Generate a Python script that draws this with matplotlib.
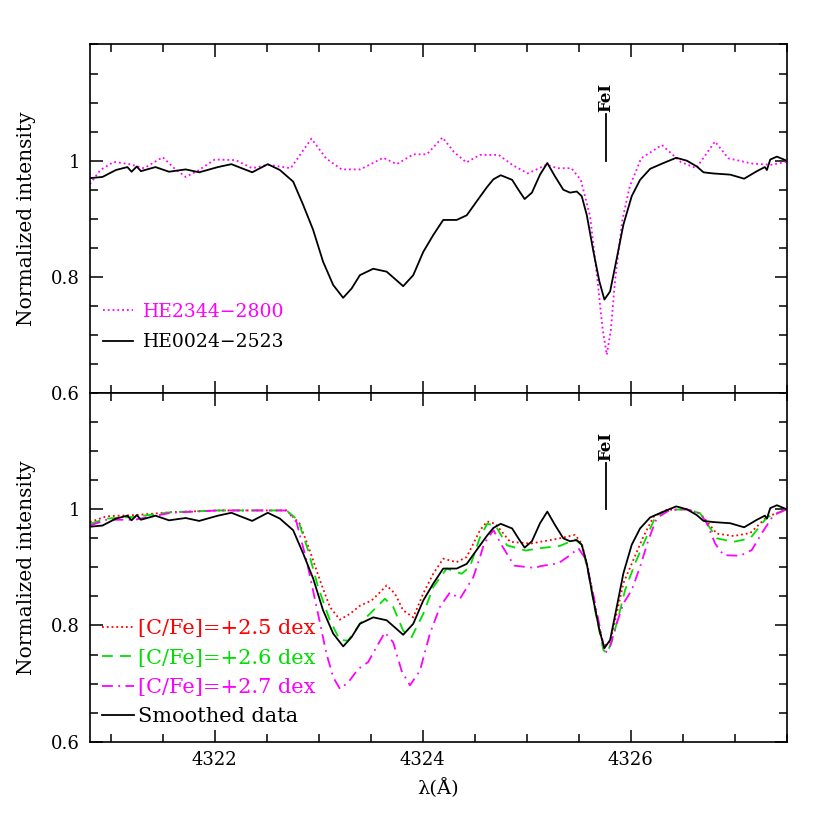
#!/usr/bin/env python
# Two-panel spectrum comparison: observed stars (top), synthetic CH fits (bottom)

import matplotlib
matplotlib.use('Agg')
import matplotlib.pyplot as plt
from matplotlib.ticker import MultipleLocator, FixedLocator

# ---- observed spectra (top panel); the black one is re-used as "Smoothed data" ----
wl_he0024 = [4320.80, 4320.92, 4321.05, 4321.16, 4321.20, 4321.25, 4321.29, 4321.43,
             4321.56, 4321.72, 4321.85, 4322.03, 4322.16, 4322.36, 4322.51, 4322.626,
             4322.754, 4322.850, 4322.946, 4323.042, 4323.139, 4323.235, 4323.316, 4323.396,
             4323.524, 4323.653, 4323.749, 4323.812, 4323.909, 4324.005, 4324.101, 4324.197,
             4324.326, 4324.423, 4324.551, 4324.62, 4324.68, 4324.75, 4324.86, 4324.92,
             4324.98, 4325.05, 4325.128, 4325.198, 4325.272, 4325.352, 4325.417, 4325.481,
             4325.529, 4325.577, 4325.641, 4325.699, 4325.747, 4325.802, 4325.866, 4325.930,
             4326.010, 4326.090, 4326.187, 4326.315, 4326.438, 4326.540, 4326.636, 4326.700,
             4326.796, 4326.957, 4327.091, 4327.214, 4327.29, 4327.31, 4327.342, 4327.406,
             4327.50]
fl_he0024 = [0.970, 0.972, 0.984, 0.989, 0.981, 0.990, 0.982, 0.989,
             0.981, 0.985, 0.980, 0.989, 0.994, 0.980, 0.994, 0.984,
             0.964, 0.924, 0.881, 0.826, 0.786, 0.764, 0.780, 0.803,
             0.814, 0.809, 0.794, 0.784, 0.803, 0.843, 0.872, 0.898,
             0.898, 0.906, 0.938, 0.955, 0.968, 0.975, 0.967, 0.950,
             0.934, 0.945, 0.976, 0.996, 0.973, 0.950, 0.945, 0.947,
             0.939, 0.907, 0.844, 0.792, 0.761, 0.775, 0.832, 0.890,
             0.939, 0.967, 0.986, 0.996, 1.005, 1.000, 0.990, 0.980,
             0.978, 0.976, 0.969, 0.982, 0.989, 0.984, 1.002, 1.007,
             1.000]

wl_he2344 = [4320.80, 4320.90, 4321.03, 4321.18, 4321.32, 4321.50, 4321.61, 4321.72,
             4321.85, 4322.00, 4322.20, 4322.36, 4322.51, 4322.73, 4322.82, 4322.93,
             4323.07, 4323.22, 4323.40, 4323.62, 4323.75, 4323.91, 4324.04, 4324.19,
             4324.30, 4324.42, 4324.55, 4324.73, 4324.86, 4325.01, 4325.19, 4325.30,
             4325.43, 4325.52, 4325.61, 4325.68, 4325.73, 4325.77, 4325.81, 4325.85,
             4325.92, 4325.99, 4326.10, 4326.30, 4326.48, 4326.63, 4326.81, 4326.94,
             4327.17, 4327.35, 4327.50]
fl_he2344 = [0.960, 0.984, 0.998, 0.994, 0.987, 1.006, 0.987, 0.972,
             0.984, 1.002, 1.001, 0.987, 0.993, 0.987, 1.010, 1.038,
             1.004, 0.985, 0.985, 1.005, 0.994, 1.011, 1.011, 1.040,
             1.015, 0.997, 1.010, 1.010, 0.993, 0.978, 0.993, 0.987,
             0.987, 0.967, 0.904, 0.795, 0.710, 0.666, 0.710, 0.795,
             0.898, 0.955, 1.004, 1.027, 0.998, 0.987, 1.033, 1.004,
             0.995, 0.993, 0.998]

# ---- synthetic spectra (bottom panel) ----
wl_c25 = [4320.80, 4320.96, 4321.23, 4321.58, 4322.03, 4322.690, 4322.818, 4322.914,
          4323.011, 4323.107, 4323.203, 4323.300, 4323.396, 4323.508, 4323.588, 4323.653,
          4323.732, 4323.812, 4323.909, 4324.005, 4324.101, 4324.197, 4324.326, 4324.423,
          4324.551, 4324.62, 4324.70, 4324.84, 4325.04, 4325.128, 4325.289, 4325.465,
          4325.529, 4325.593, 4325.657, 4325.737, 4325.802, 4325.866, 4325.930, 4326.026,
          4326.122, 4326.219, 4326.347, 4326.540, 4326.668, 4326.732, 4326.829, 4326.989,
          4327.149, 4327.310, 4327.50]
fl_c25 = [0.978, 0.988, 0.990, 0.995, 0.998, 0.998, 0.975, 0.929,
          0.878, 0.832, 0.810, 0.820, 0.834, 0.843, 0.857, 0.869,
          0.855, 0.826, 0.814, 0.855, 0.889, 0.915, 0.909, 0.918,
          0.964, 0.979, 0.975, 0.944, 0.941, 0.944, 0.949, 0.956,
          0.941, 0.896, 0.832, 0.764, 0.772, 0.821, 0.873, 0.913,
          0.953, 0.987, 0.999, 1.000, 0.993, 0.979, 0.958, 0.954,
          0.959, 0.987, 1.000]

wl_c26 = [4320.80, 4320.96, 4321.23, 4321.58, 4322.03, 4322.690, 4322.802, 4322.898,
          4322.994, 4323.107, 4323.203, 4323.283, 4323.396, 4323.524, 4323.636, 4323.716,
          4323.812, 4323.893, 4324.005, 4324.101, 4324.230, 4324.374, 4324.454, 4324.551,
          4324.62, 4324.70, 4324.81, 4324.99, 4325.128, 4325.320, 4325.465, 4325.529,
          4325.593, 4325.657, 4325.737, 4325.770, 4325.818, 4325.882, 4325.946, 4326.042,
          4326.139, 4326.235, 4326.363, 4326.540, 4326.668, 4326.732, 4326.829, 4326.989,
          4327.149, 4327.310, 4327.50]
fl_c26 = [0.975, 0.984, 0.987, 0.995, 0.998, 0.998, 0.981, 0.929,
          0.866, 0.809, 0.775, 0.774, 0.803, 0.826, 0.846, 0.832,
          0.791, 0.780, 0.820, 0.866, 0.898, 0.889, 0.901, 0.952,
          0.975, 0.972, 0.938, 0.929, 0.933, 0.937, 0.948, 0.939,
          0.890, 0.827, 0.758, 0.752, 0.772, 0.815, 0.861, 0.907,
          0.947, 0.986, 0.999, 1.000, 0.993, 0.976, 0.950, 0.944,
          0.950, 0.986, 1.000]

wl_c27 = [4320.80, 4320.96, 4321.23, 4321.58, 4322.03, 4322.690, 4322.786, 4322.883,
          4322.979, 4323.075, 4323.139, 4323.203, 4323.283, 4323.379, 4323.475, 4323.556,
          4323.636, 4323.716, 4323.797, 4323.877, 4323.973, 4324.069, 4324.166, 4324.262,
          4324.358, 4324.486, 4324.551, 4324.59, 4324.68, 4324.77, 4324.88, 4325.08,
          4325.128, 4325.304, 4325.417, 4325.497, 4325.561, 4325.625, 4325.689, 4325.754,
          4325.802, 4325.866, 4325.930, 4326.010, 4326.090, 4326.170, 4326.251, 4326.379,
          4326.540, 4326.668, 4326.732, 4326.812, 4326.893, 4327.053, 4327.165, 4327.261,
          4327.374, 4327.50]
fl_c27 = [0.972, 0.982, 0.982, 0.994, 0.998, 0.998, 0.978, 0.912,
          0.832, 0.751, 0.711, 0.691, 0.702, 0.725, 0.737, 0.763,
          0.788, 0.771, 0.722, 0.697, 0.722, 0.786, 0.832, 0.857,
          0.846, 0.883, 0.918, 0.941, 0.964, 0.935, 0.903, 0.899,
          0.902, 0.907, 0.921, 0.933, 0.916, 0.867, 0.810, 0.752,
          0.764, 0.804, 0.838, 0.861, 0.901, 0.947, 0.985, 0.999,
          1.000, 0.993, 0.976, 0.941, 0.921, 0.920, 0.930, 0.959,
          0.990, 1.000]

fe_line = 4325.76

plt.rcParams['font.family'] = ['DejaVu Serif']
plt.rcParams['font.size'] = 13

fig = plt.figure(figsize=(8.3, 8.3), dpi=100)
ax_top = fig.add_axes([0.1084, 0.5264, 0.8394, 0.4200])
ax_bot = fig.add_axes([0.1084, 0.1064, 0.8394, 0.4200], sharex=ax_top)

ax_top.plot(wl_he2344, fl_he2344, color='magenta', ls=':', lw=1.3, label='HE2344\u22122800')
ax_top.plot(wl_he0024, fl_he0024, color='black', ls='-', lw=1.3, label='HE0024\u22122523')

ax_bot.plot(wl_c25, fl_c25, color='red', ls=':', lw=1.3, label='[C/Fe]=+2.5 dex')
ax_bot.plot(wl_c26, fl_c26, color='#00e000', ls=(0, (6, 4)), lw=1.3, label='[C/Fe]=+2.6 dex')
ax_bot.plot(wl_c27, fl_c27, color='magenta', ls=(0, (6, 3, 1, 3)), lw=1.3, label='[C/Fe]=+2.7 dex')
ax_bot.plot(wl_he0024, fl_he0024, color='black', ls='-', lw=1.3, label='Smoothed data')

for ax in (ax_top, ax_bot):
    ax.set_xlim(4320.8, 4327.5)
    ax.set_ylim(0.6, 1.2)
    ax.set_ylabel('Normalized intensity', fontsize=14.5)
    ax.yaxis.set_label_coords(-0.078, 0.5)
    ax.xaxis.set_major_locator(MultipleLocator(2))
    ax.xaxis.set_minor_locator(MultipleLocator(0.5))
    ax.yaxis.set_major_locator(FixedLocator([0.6, 0.8, 1.0]))
    ax.yaxis.set_minor_locator(MultipleLocator(0.05))
    ax.yaxis.set_major_formatter(plt.FuncFormatter(lambda v, p: '%g' % round(v, 2)))
    ax.tick_params(which='both', direction='in', top=True, right=True, width=1.1)
    ax.tick_params(which='major', length=9, pad=7)
    ax.tick_params(which='minor', length=6)
    for sp in ax.spines.values():
        sp.set_linewidth(1.2)
    # FeI marker
    ax.plot([fe_line, fe_line], [1.0, 1.08], color='black', lw=1.3)
    ax.text(fe_line, 1.083, 'FeI', rotation=90, ha='center', va='bottom',
            fontweight='bold', fontsize=12)

plt.setp(ax_top.get_xticklabels(), visible=False)
ax_bot.set_xlabel('\u03bb(\u00c5)', fontsize=14, labelpad=6)

ax_top.legend(loc='lower left', bbox_to_anchor=(-0.006, 0.072), frameon=False,
              handlelength=1.6, handletextpad=0.55, labelspacing=0.67,
              labelcolor='linecolor', fontsize=13.5)
ax_bot.legend(loc='lower left', bbox_to_anchor=(-0.01, -0.01), frameon=False,
              handlelength=1.55, handletextpad=0.2, labelspacing=0.5,
              labelcolor='linecolor', fontsize=15)

fig.savefig('out.png', dpi=100)
